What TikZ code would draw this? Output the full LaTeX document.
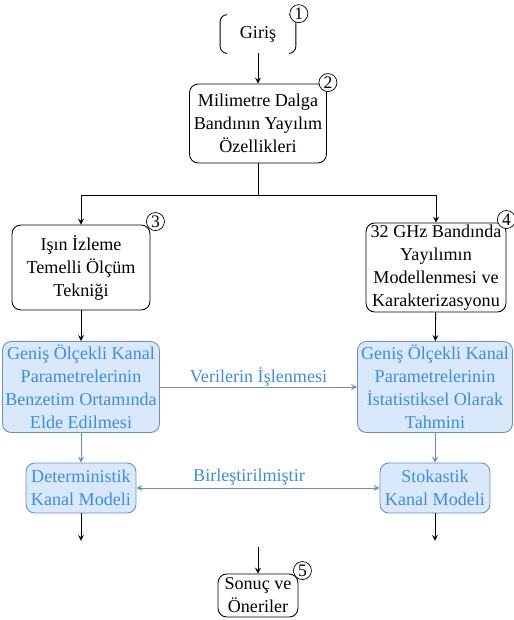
\documentclass[tikz,border=0pt]{standalone}
\usepackage{fontspec}
\setmainfont{Liberation Serif}
\usetikzlibrary{shapes,arrows,positioning,calc}
\definecolor{drawblue}{RGB}{108,142,191}
\definecolor{fillblue}{RGB}{218,232,252}
\definecolor{textblue}{RGB}{59,140,230}

\begin{document}
\begin{tikzpicture}[node distance=1.5cm, auto, >=stealth, font=\fontsize{10.3}{13.1}\selectfont]
        % Styles
        \tikzstyle{block} = [rectangle, draw, rounded corners=5pt, align=center, inner sep=1pt, line width=0.5pt]
        \tikzstyle{bluebox} = [block, draw=drawblue, fill=fillblue, text=textblue]
        \tikzstyle{openbox} = [rectangle, align=center, minimum width=1.5cm, minimum height=0.76cm]
        \tikzstyle{num} = [circle, draw, fill=white, inner sep=0pt, minimum size=0.36cm, font=\fontsize{10}{10}\selectfont]
        \tikzstyle{line} = [draw, ->, line width=0.5pt]
        \tikzstyle{blueline} = [draw=drawblue, ->, line width=0.5pt, text=textblue]

        \useasboundingbox (0,0) rectangle (10.28,-12.4);

        % Nodes
        \node [openbox] (giris) at (5.16,-0.68) {Giriş};
        \node [block, below of=giris, node distance=1.79cm, minimum width=2.74cm, minimum height=1.58cm] (milim) {Milimetre Dalga\\Bandının Yayılım\\Özellikleri};
        \node [block, minimum width=2.76cm, minimum height=1.7cm] (isin) at (1.62,-5.35) {Işın İzleme\\Temelli Ölçüm\\Tekniği};
        \node [block, right of=isin, node distance=7.1cm, minimum width=2.8cm, minimum height=1.74cm] (model) {32 GHz Bandında\\Yayılımın\\Modellenmesi ve\\Karakterizasyonu};
        \node [bluebox, below of=isin, node distance=2.39cm, minimum width=3.14cm, minimum height=1.82cm] (benzetim) {Geniş Ölçekli Kanal\\Parametrelerinin\\Benzetim Ortamında\\Elde Edilmesi};
        \node [bluebox, right of=benzetim, node distance=7.08cm, minimum width=3.1cm, minimum height=1.82cm] (istatistik) {Geniş Ölçekli Kanal\\Parametrelerinin\\İstatistiksel Olarak\\Tahmini};
        \node [bluebox, below of=benzetim, node distance=2.02cm, minimum width=2.2cm, minimum height=1cm] (det) {Deterministik\\Kanal Modeli};
        \node [bluebox, right of=det, node distance=7.08cm, minimum width=2.2cm, minimum height=1cm] (stok) {Stokastik\\Kanal Modeli};
        \node [block, minimum width=1.6cm, minimum height=0.86cm] (sonuc) at (5.16,-11.91) {Sonuç ve\\Öneriler};

        % Giris box sides only
        \draw [rounded corners=4pt, line width=0.5pt] ([xshift=4pt]giris.north west) -- (giris.north west) -- (giris.south west) -- ([xshift=4pt]giris.south west);
        \draw [rounded corners=4pt, line width=0.5pt] ([xshift=-4pt]giris.north east) -- (giris.north east) -- (giris.south east) -- ([xshift=-4pt]giris.south east);

        % Numbers
        \node [num] (n1) at ([shift={(0.06,0.02)}]giris.north east) {1};
        \node [num] (n2) at ([shift={(0.02,0.02)}]milim.north east) {2};
        \node [num] (n3) at ([shift={(0.1,0.06)}]isin.north east) {3};
        \node [num] (n4) at ([shift={(0,0.06)}]model.north east) {4};
        \node [num] (n5) at ([shift={(0.08,0.06)}]sonuc.north east) {5};

        % Coordinates
        \coordinate (split) at ($(milim.south)+(0,-0.64)$);
        \coordinate (detout) at ($(det.south)+(0,-0.55)$);
        \coordinate (stokout) at ($(stok.south)+(0,-0.55)$);
        \coordinate (sonucin) at ($(sonuc.north)+(0,0.54)$);

        % Edges
        \path [line] (giris) -- (milim);
        \draw [line width=0.5pt] (milim) -- (split);
        \path [line] (split) -| (isin);
        \path [line] (split) -| (model);
        \path [line] (isin) -- (benzetim);
        \path [line] (model) -- (istatistik);
        \path [blueline] (benzetim) -- node [above, inner sep=1pt, yshift=-1pt] {Verilerin İşlenmesi} (istatistik);
        \path [blueline] (benzetim) -- (det);
        \path [blueline] (istatistik) -- (stok);
        \path [blueline, <->] (det) -- node [above, inner sep=1pt, xshift=-0.18cm] {Birleştirilmiştir} (stok);
        \path [line] (det) -- (detout);
        \path [line] (stok) -- (stokout);
        \path [line] (sonucin) -- (sonuc);
\end{tikzpicture}
\end{document}
